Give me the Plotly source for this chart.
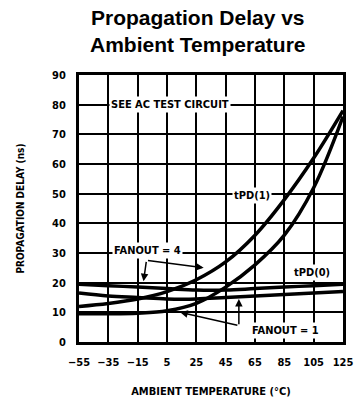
import plotly.graph_objects as go

temps = [-55, -35, -15, 5, 25, 45, 65, 85, 105, 125]
tick_labels = ["\u221255", "\u221235", "\u221215", "5", "25", "45", "65", "85", "105", "125"]
y_ticks = [0, 10, 20, 30, 40, 50, 60, 70, 80, 90]

tpd1_fanout4 = [12, 13, 14.5, 17, 21, 27, 36, 48, 62, 78]
tpd1_fanout1 = [9.5, 9.5, 9.7, 10.5, 13, 18.5, 26, 36, 52, 76]
tpd0_fanout4 = [19.5, 19, 18.5, 18, 17.5, 17.5, 18, 18.5, 19, 19.5]
tpd0_fanout1 = [16.5, 15.5, 15, 14.5, 14.5, 15, 15.5, 16, 16.5, 17]

FONT = "DejaVu Sans Condensed, Liberation Sans Narrow, Arial Narrow, DejaVu Sans, Arial"

fig = go.Figure()
for ys in [tpd1_fanout4, tpd1_fanout1, tpd0_fanout4, tpd0_fanout1]:
    fig.add_trace(go.Scatter(x=temps, y=ys, mode="lines", line=dict(color="black", width=3.5, shape="spline"),
                             showlegend=False, hoverinfo="skip"))

def ann(text, x, y, size=11, **kw):
    fig.add_annotation(x=x, y=y, text=text, showarrow=False, bgcolor="white",
                       font=dict(family=FONT, size=size, color="black", weight="bold"), **kw)

ann("SEE AC TEST CIRCUIT", 7, 80, borderpad=1)
ann("tPD(1)", 63, 49.5, size=11)
ann("tPD(0)", 104, 23.5, size=11)
ann("FANOUT = 4", -8.5, 31, size=11)
ann("FANOUT = 1", 86, 4, size=11)

# title as annotation (two lines)
fig.add_annotation(xref="paper", yref="paper", x=0.45, y=1.165, xanchor="center", yanchor="middle",
                   text="Propagation Delay vs<br>Ambient Temperature", showarrow=False,
                   font=dict(family="Liberation Sans, Arial", size=21, color="black", weight="bold"))

def arrow(x0, y0, x1, y1):
    fig.add_annotation(x=x1, y=y1, ax=x0, ay=y0, xref="x", yref="y", axref="x", ayref="y",
                       text="", showarrow=True, arrowhead=2, arrowsize=1, arrowwidth=1.5, arrowcolor="black")

arrow(-9, 27.5, 30, 25)
arrow(-9, 27.5, -11, 20.5)
arrow(54, 5.5, 14, 10)
arrow(54, 5.5, 54, 14.5)

fig.update_layout(
    width=357, height=402,
    margin=dict(l=79, r=14, t=75, b=60),
    paper_bgcolor="white", plot_bgcolor="white",
    xaxis=dict(range=[-55, 125], tickvals=temps, ticktext=tick_labels, showgrid=True, gridcolor="black", gridwidth=2,
               zeroline=False, showline=True, linecolor="black", linewidth=3, mirror=True, ticks="",
               ticklabelstandoff=8, automargin=False,
               tickfont=dict(family=FONT, size=11, color="black", weight="bold"),
               title=dict(text="AMBIENT TEMPERATURE (\u00b0C)", standoff=20,
                          font=dict(family=FONT, size=11, color="black", weight="bold"))),
    yaxis=dict(range=[0, 90], tickvals=y_ticks, showgrid=True, gridcolor="black", gridwidth=2,
               zeroline=False, showline=True, linecolor="black", linewidth=3, mirror=True, ticks="",
               ticklabelstandoff=8, automargin=False,
               tickfont=dict(family=FONT, size=11, color="black", weight="bold"),
               title=dict(text="PROPAGATION DELAY (ns)", standoff=26,
                          font=dict(family=FONT, size=10, color="black", weight="bold"))),
)

fig.write_html("out.html")
